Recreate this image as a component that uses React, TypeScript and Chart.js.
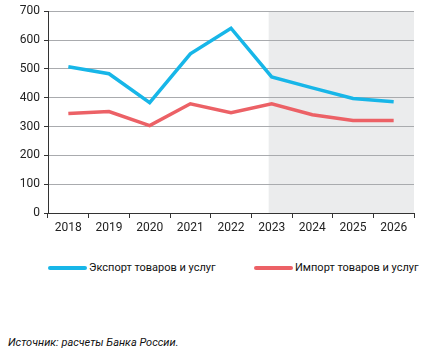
import React, { useEffect, useRef } from "react";
import { Chart, registerables } from "chart.js";

Chart.register(...registerables);

const years = ["2018", "2019", "2020", "2021", "2022", "2023", "2024", "2025", "2026"];
const exportValues = [507, 483, 383, 552, 641, 472, 434, 397, 386];
const importValues = [345, 352, 303, 379, 348, 379, 341, 321, 321];
const exportLabel = "Экспорт товаров и услуг";
const importLabel = "Импорт товаров и услуг";
const forecastStartIndex = 5;
const sourceText = "Источник: расчеты Банка России.";

const BLUE = "#17b6e8";
const RED = "#ec6166";
const FONT = "Roboto, 'Open Sans', sans-serif";

const shadePlugin = {
  id: "shade",
  beforeDraw(chart: any) {
    const { ctx, chartArea, scales } = chart;
    const x0 = scales.x.getPixelForValue(forecastStartIndex) - 3;
    ctx.save();
    ctx.fillStyle = "#ebeced";
    ctx.fillRect(x0, chartArea.top, chartArea.right - x0, chartArea.bottom - chartArea.top);
    ctx.restore();
  },
};

export default function App() {
  const ref = useRef<HTMLCanvasElement>(null);
  useEffect(() => {
    const chart = new Chart(ref.current!, {
      type: "line",
      data: {
        labels: years,
        datasets: [
          { label: exportLabel, data: exportValues, borderColor: BLUE, borderWidth: 3.5, pointRadius: 0, tension: 0 },
          { label: importLabel, data: importValues, borderColor: RED, borderWidth: 3.5, pointRadius: 0, tension: 0 },
        ],
      },
      options: {
        animation: false,
        responsive: false,
        layout: { padding: { top: 4, right: 12, left: 0, bottom: 0 } },
        plugins: { legend: { display: false }, tooltip: { enabled: false } },
        scales: {
          x: {
            offset: true,
            grid: { offset: true, drawOnChartArea: false, drawTicks: true, tickLength: 5, color: "#333", tickColor: "#333" },
            border: { display: true, color: "#333", width: 1 },
            ticks: { color: "#222", font: { family: FONT, size: 12 }, padding: 3, maxRotation: 0 },
            afterFit: (s: any) => { s.height = 27; },
          },
          y: {
            min: 0,
            max: 700,
            grid: { color: "#a9abae", tickColor: "#333", tickLength: 4, lineWidth: 1 },
            border: { display: true, color: "#333", width: 1 },
            ticks: { stepSize: 100, color: "#222", font: { family: FONT, size: 12 }, padding: 4 },
            afterFit: (s: any) => { s.width = 48; },
          },
        },
      },
      plugins: [shadePlugin],
    });
    return () => chart.destroy();
  }, []);

  const legendLine = (color: string) => (
    <span style={{ display: "inline-block", width: 39, height: 4, borderRadius: 2, background: color, marginRight: 2 }} />
  );

  return (
    <div style={{ position: "fixed", left: 0, top: 0, width: 426, height: 362, background: "#fff", fontFamily: FONT }}>
      <canvas ref={ref} width={426} height={240} style={{ position: "absolute", left: 0, top: 0, width: 426, height: 240 }} />
      <div style={{ position: "absolute", left: 48, top: 261, display: "flex", alignItems: "center", fontSize: 11, color: "#111" }}>
        {legendLine(BLUE)}
        <span>{exportLabel}</span>
      </div>
      <div style={{ position: "absolute", left: 254, top: 261, display: "flex", alignItems: "center", fontSize: 11, color: "#111" }}>
        {legendLine(RED)}
        <span>{importLabel}</span>
      </div>
      <div style={{ position: "absolute", left: 8, top: 336, fontSize: 11, fontStyle: "italic", color: "#111" }}>
        {sourceText}
      </div>
    </div>
  );
}
